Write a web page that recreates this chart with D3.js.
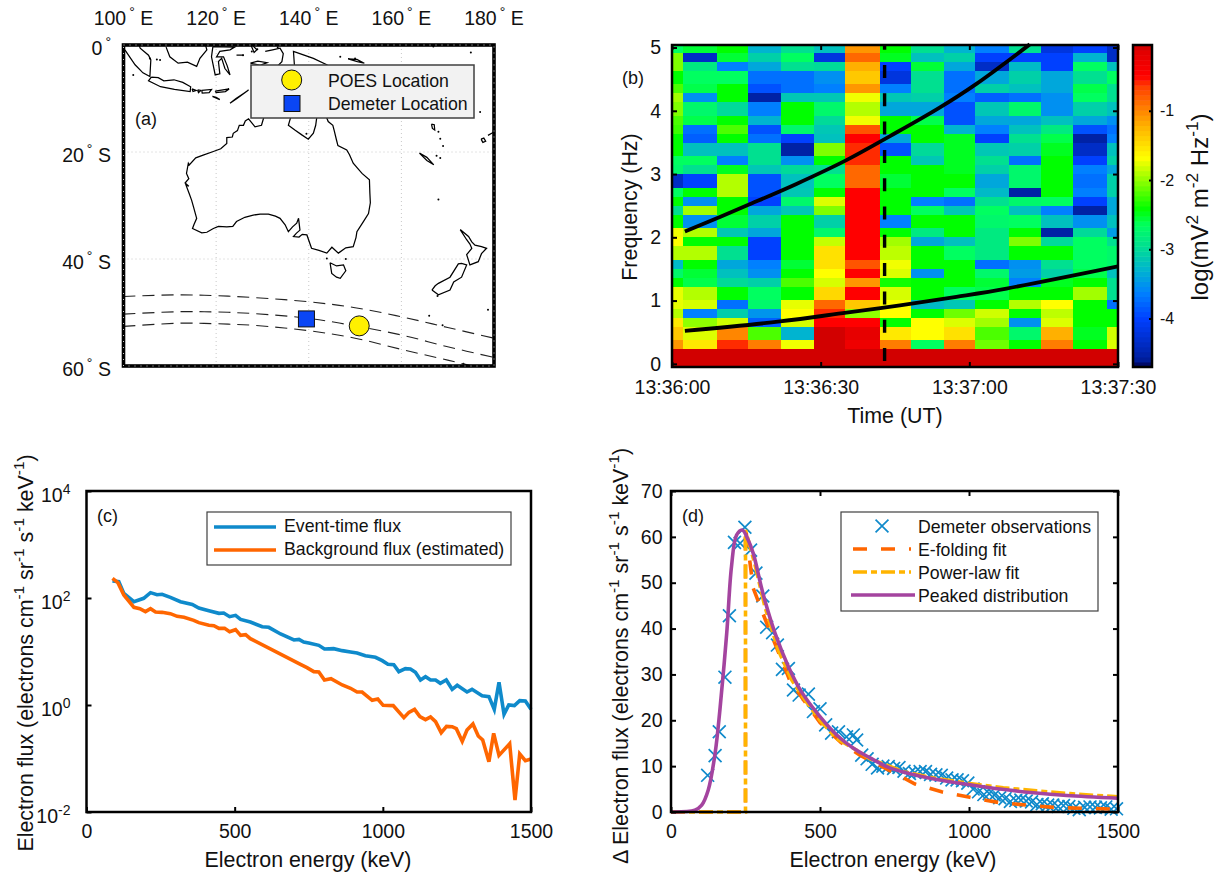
<!DOCTYPE html>
<html>
<head>
<meta charset="utf-8">
<script src="https://cdn.jsdelivr.net/npm/d3@7"></script>
<style>
  html, body { margin: 0; padding: 0; background: #fff; }
  svg { display: block; }
  text { font-family: "Liberation Sans", Arial, sans-serif; fill: #111; }
  .tick line { stroke: #000; stroke-width: 2; }
  .domain { display: none; }
</style>
</head>
<body>
<svg id="fig" width="1219" height="875"></svg>
<script>
// ---- panel a: coastlines as [lon, south lat] ----
const australia = [[136.7,12.2],[135,12],[132,11.4],[131,12.4],[130.3,13.5],[129.8,15],[128.4,15.3],[127,13.8],[126.3,14.2],[125.9,15],[125,15],[124.6,16],[123.7,16.5],[123.5,17.2],[122.3,17.3],[122.3,18.4],[121,19.4],[119.4,19.9],[117.2,20.6],[115.6,21.1],[114.2,22.4],[114,22.1],[113.6,24],[114.1,25],[113.3,25.8],[114.1,26.4],[113.5,26.2],[114.2,27.8],[114.7,29],[115.1,30.2],[115.8,32.4],[115.2,33.6],[114.9,34.3],[116.9,35.1],[118,35],[119.4,34.3],[120.5,33.9],[122.3,34],[123.6,33.9],[124.4,33],[126.2,32.2],[128,31.8],[129.5,31.6],[131.3,31.6],[132.8,32],[133.8,32.4],[134.9,33.6],[135.6,34.9],[136.5,34],[137.4,33.3],[137.8,32.4],[138.1,34.6],[137.3,35.2],[136.7,35.8],[137.9,35.9],[138.6,35.4],[139.6,35.5],[140.6,38],[142.2,38.4],[143.9,38.9],[145,37.8],[146.4,38.9],[148,37.9],[149.6,37.7],[150.2,36],[150.4,34.9],[151.8,33],[152.9,31.5],[153.3,29.5],[153.2,27.7],[153.1,25.2],[151.5,24],[150.8,23.3],[149.6,22.1],[148.8,20.5],[148.2,19.6],[146.3,18.8],[146,17.8],[145.5,16],[145.2,15],[144.2,14.3],[143.6,13],[143.5,11],[142.5,10.7],[142,12],[141.7,13.7],[141.5,15],[141,16.5],[139.9,17.6],[138.5,16.8],[137,15.9],[135.6,15],[136,13.8],[136.7,12.2]];
const tasmania = [[144.6,40.7],[144.96,42.7],[146,43.4],[146.8,43.6],[148,42.2],[147.5,41.1],[146,41.3],[144.6,40.7]];
const nzSouth = [[166.6,45.8],[167.3,45],[168,44.55],[170.5,43.4],[172.3,40.9],[173,40.8],[174.1,41.1],[173,43.4],[171.3,44.3],[170.5,45.8],[168,46.7],[166.6,45.8]];
const nzNorth = [[172.7,34.5],[174.1,36.4],[174.8,37.2],[175.2,38],[174.1,39.2],[174.8,41.1],[176.6,40.5],[177.3,39],[178.4,38],[177.3,37.7],[175.9,37.4],[175.2,36.8],[174.5,35.8],[172.7,34.5]];
const sumatra = [[100.3,0.9],[102.5,3.7],[104.2,5.2],[105.7,5.9],[105.9,2.8],[105.4,1.9],[103.6,0.6],[103.2,-0.5]];
const java = [[106,6],[107.5,6.1],[108.7,6.7],[110.9,6.5],[112.8,7],[114.5,7.8],[114.4,8.7],[111,8.3],[108,7.8],[105.4,6.7],[106,6]];
const borneo = [[109.2,0.4],[110,2.2],[111.8,3.4],[113.8,3.2],[115.8,4],[116.5,2.5],[118,0.9],[117.6,-0.3]];
const sulawesi = [[119.3,0.3],[119,2.2],[119.8,5.6],[120.8,5.4],[120.5,3.1],[121.2,2.5],[121.9,4.4],[123,5.6],[122.4,3.9],[121.6,2.2],[120.1,2.2],[120.8,1.2],[123,0.9],[124,0.4],[119.3,0.3]];
const newGuinea = [[130.6,1.2],[132.2,0.9],[133.8,0.6],[134.5,1.6],[134.2,3.1],[133.2,4],[135,5],[137,5],[136.7,1.2],[139,1.9],[141,2.5],[143.9,3.7],[146,5]];
const seram = [[127.4,3.4],[129,3],[131,3.3],[129.5,3.8],[127.4,3.4]];
const halmahera = [[127.6,0.2],[128.2,1.4],[128.8,0.9],[128,0.2]];
const sulaIslands = [[124.4,1.9],[126,1.9]];
const timor = [[123,10.9],[124.5,10],[127,8.4],[126,9],[124.3,10],[123,10.9]];
const sumba = [[119.2,9.6],[120.8,10.2],[120,9.8],[119.2,9.6]];
const sundaIslands = [[[114.8,8.2],[115.7,8.5],[115,8.7],[114.8,8.2]],[[116,8.4],[116.7,8.5],[116.2,8.9],[116,8.4]],[[116.9,8.5],[119,8.3],[118.5,8.9],[117,9],[116.9,8.5]],[[119.8,8.6],[122.8,8.2],[122,8.7],[120,8.9],[119.8,8.6]]];
const newCaledonia = [[163.9,20.2],[165.5,21],[167,22.4],[165.5,21.6],[163.9,20.2]];
const vanuatu = [[166.5,14.8],[166.7,15.6],[167.2,15.9],[167.1,14.9],[166.5,14.8]];
const fiji = [[177.2,17.6],[177.8,17.4],[178.2,18],[177.6,18.2],[177.2,17.6]];
const fijiEast = [[178.7,16.9],[179.5,16.5],[180,16.2]];
const newBritain = [[148.5,2.6],[150.4,2.7],[152,3.4],[150.5,3.1],[148.5,2.6]];
const smallIslands = [[102.1,5.6],[107.9,2.8],[107.2,2.7],[105.7,2.5],[127.7,1.2],[128.9,0.8],[125.8,1.9],[133.3,0.4],[146.8,2.2],[150,2.5],[175,1.4],[166.9,0.3],[168,16.2],[168.4,17.5],[169,18.9],[168.4,21.1],[167.6,20.7],[177,12.5],[168,28.9],[143.9,39.9],[148,40],[166,50.6],[168.9,52.4],[178.7,49.5],[173.4,59.6],[167.8,46.9],[139.5,16.6]];
const coastlines = [australia, tasmania, nzSouth, nzNorth, sumatra, java, borneo, sulawesi, newGuinea, seram, halmahera, sulaIslands, timor, sumba, ...sundaIslands, newCaledonia, vanuatu, fiji, fijiEast, newBritain];

// orbit tracks as lon, south lat
const trackLons = [100, 112, 120, 128, 140, 150, 160, 170, 180];
const trackNorth = [47.0, 46.7, 46.85, 47.2, 48.0, 49.1, 50.8, 52.8, 54.8];
const trackMiddle = [50.3, 49.85, 49.9, 50.2, 51.1, 52.5, 54.2, 56.4, 58.4];
const trackSouth = [52.6, 52.0, 52.1, 52.4, 53.4, 54.8, 56.9, 58.9, 61.0];
const poesLocation = [150.9, 52.5];
const demeterLocation = [139.5, 51.2];
const lonTicks = [100, 120, 140, 160, 180];
const latTicks = [0, 20, 40, 60];

// ---- panel b: spectrogram, log10 values, rows from 5 Hz down to 0 Hz ----
const timeEdges = [0, 2.3, 9, 15.4, 22, 28.7, 35, 42, 48.2, 54.8, 61.2, 68, 74.4, 81, 87.7, 90];
const freqEdges = [5.04,4.92,4.77,4.63,4.42,4.28,4.14,3.92,3.78,3.64,3.49,3.28,3.14,3.0,2.78,2.64,2.50,2.36,2.15,2.01,1.87,1.64,1.50,1.36,1.22,1.01,0.87,0.73,0.58,0.37,0.23,-0.05];
const spectrum = [
  [-2.65,-2.55,-2.42,-3.3,-2.95,-3.2,-1.08,-2.42,-2.95,-3.3,-3.63,-2.95,-4.2,-4.0,-4.35],
  [-2.05,-4.35,-2.55,-3.08,-2.65,-4.2,-0.85,-2.5,-3.2,-3.08,-4.0,-4.0,-4.0,-3.3,-4.35],
  [-2.05,-2.85,-3.63,-3.38,-2.95,-3.0,-1.21,-4.0,-2.55,-3.38,-4.35,-3.25,-4.0,-2.65,-3.2],
  [-2.42,-2.65,-2.65,-3.72,-3.72,-3.53,-1.35,-4.2,-2.95,-3.72,-3.38,-3.08,-3.38,-2.95,-2.65],
  [-2.2,-2.6,-2.42,-3.9,-3.72,-3.63,-1.08,-3.63,-2.95,-3.72,-3.08,-3.2,-3.38,-2.6,-2.95],
  [-1.95,-3.53,-2.42,-4.55,-3.15,-3.15,-1.72,-3.15,-3.08,-3.63,-3.82,-3.72,-3.53,-2.65,-2.95],
  [-2.05,-2.72,-3.0,-3.63,-2.42,-2.72,-1.9,-3.38,-3.38,-3.9,-3.15,-2.72,-3.53,-3.08,-3.2],
  [-2.2,-2.6,-2.42,-3.3,-2.42,-3.0,-1.72,-2.42,-2.6,-3.9,-3.38,-3.38,-3.2,-3.38,-3.53],
  [-2.25,-3.72,-2.2,-3.9,-2.72,-3.15,-0.75,-2.42,-2.42,-3.3,-3.63,-3.2,-2.85,-3.9,-3.72],
  [-2.42,-3.82,-2.42,-3.72,-4.0,-3.2,-0.5,-3.38,-2.42,-2.5,-4.0,-2.95,-2.6,-4.55,-3.63],
  [-2.42,-3.2,-3.2,-2.95,-4.55,-2.05,-0.6,-3.9,-3.0,-2.5,-3.15,-3.08,-2.5,-4.35,-3.2],
  [-2.65,-2.65,-3.63,-2.95,-3.53,-2.42,-0.6,-2.42,-3.15,-2.5,-2.95,-3.72,-2.42,-4.0,-3.08],
  [-2.72,-2.95,-2.5,-3.15,-3.0,-2.95,-0.85,-2.42,-2.42,-2.5,-3.08,-2.72,-2.42,-3.63,-3.38],
  [-4.35,-4.0,-1.9,-3.9,-3.2,-2.65,-0.85,-2.55,-2.42,-2.42,-3.38,-2.72,-2.42,-3.72,-3.08],
  [-2.65,-2.42,-1.9,-3.9,-3.15,-2.42,-0.5,-2.42,-2.42,-2.65,-3.25,-4.55,-2.42,-3.63,-3.08],
  [-2.42,-3.53,-2.42,-4.0,-2.72,-1.78,-0.5,-2.42,-3.63,-3.72,-2.95,-2.72,-2.65,-4.0,-3.38],
  [-2.95,-1.95,-2.42,-3.38,-3.15,-2.05,-0.5,-2.42,-2.65,-3.15,-2.65,-3.2,-3.63,-4.55,-3.38],
  [-2.42,-3.53,-2.55,-3.08,-2.42,-3.08,-0.5,-3.63,-2.42,-2.42,-2.72,-2.65,-3.2,-3.53,-3.2],
  [-1.72,-1.9,-3.15,-3.38,-2.42,-2.72,-0.5,-2.42,-2.85,-2.42,-2.85,-2.42,-4.55,-3.0,-3.45],
  [-1.68,-2.42,-2.42,-4.0,-2.42,-1.85,-0.5,-1.95,-3.38,-3.2,-2.85,-2.05,-3.0,-2.65,-2.95],
  [-1.9,-1.9,-2.95,-4.0,-2.42,-1.5,-0.5,-1.87,-2.42,-2.65,-2.85,-2.42,-2.42,-2.65,-2.72],
  [-3.25,-2.42,-3.38,-3.63,-2.55,-1.5,-0.75,-1.72,-2.42,-2.42,-3.72,-3.53,-2.95,-2.65,-2.72],
  [-2.72,-2.55,-3.2,-3.53,-2.42,-1.68,-0.5,-1.78,-3.53,-2.42,-2.72,-3.45,-3.08,-2.6,-3.2],
  [-2.42,-2.6,-3.0,-3.08,-2.2,-1.8,-1.08,-2.38,-2.42,-2.42,-2.55,-3.63,-2.5,-2.42,-2.95],
  [-1.75,-1.9,-2.42,-2.65,-2.42,-1.45,-0.5,-1.8,-2.42,-2.65,-2.6,-2.42,-2.42,-1.95,-2.95],
  [-1.75,-1.8,-3.72,-2.72,-1.75,-0.85,-1.35,-1.68,-3.25,-3.15,-2.42,-1.9,-1.68,-2.42,-3.72],
  [-1.9,-3.63,-3.1,-3.5,-1.68,-0.6,-2.0,-1.68,-2.42,-2.1,-1.82,-2.42,-1.87,-2.42,-2.42],
  [-1.55,-2.0,-1.82,-3.82,-1.8,-0.5,-0.5,-2.42,-1.68,-1.78,-1.95,-3.53,-1.78,-2.42,-2.42],
  [-1.35,-1.78,-1.0,-2.2,-3.3,-0.08,-0.2,-1.55,-1.68,-1.5,-2.2,-2.72,-1.21,-2.5,-1.82],
  [-1.08,-1.55,-0.6,-0.95,-1.72,-0.08,-0.3,-0.95,-2.65,-0.95,-2.1,-2.42,-0.95,-2.42,-1.78],
  [-0.08,-0.08,-0.08,-0.08,-0.08,-0.08,-0.08,-0.08,-0.08,-0.08,-0.08,-0.08,-0.08,-0.08,-0.08]
];
const colorValues = [-4.7,-4.58,-4.0,-3.63,-3.3,-2.95,-2.65,-2.42,-2.14,-1.68,-1.21,-0.65,-0.5,-0.12,-0.05];
const colorRange = ["#000050","#0020a0","#0040ff","#0080ff","#00b4d0","#00e090","#00ff60","#00ff00","#60ff00","#ffff00","#ffb000","#ff4000","#ff0000","#e00000","#c80000"];
const cutoffUpperT = [2.6, 15.3, 25, 35.2, 44, 54, 61.5, 72.2];
const cutoffUpperF = [2.09, 2.51, 2.84, 3.22, 3.6, 4.05, 4.43, 5.05];
const cutoffLowerT = [2.6, 21.8, 35.2, 46, 57.4, 67.5, 90];
const cutoffLowerF = [0.52, 0.67, 0.81, 0.925, 1.06, 1.19, 1.54];
const eventTime = 42.9;
const timeTicks = [0, 30, 60, 90];
const timeLabels = ["13:36:00", "13:36:30", "13:37:00", "13:37:30"];

// ---- panel c: flux, log10 of electrons cm-1 sr-1 s-1 keV-1 ----
const eventE = [87.7,109,126,160,193,216,238,255,283,317,357,379,413,447,463,483,503,520,553,593,615,655,700,717,733,750,784,803,834,863,891,913,941,975,998,1017,1037,1054,1076,1093,1110,1127,1144,1161,1178,1194,1214,1234,1251,1284,1301,1335,1358,1376,1392,1409,1425,1444,1462,1481,1500];
const eventLogFlux = [2.32,2.305,2.087,1.93,1.994,2.1,2.062,2.069,2.012,1.93,1.88,1.813,1.763,1.713,1.72,1.651,1.676,1.6,1.551,1.464,1.452,1.327,1.215,1.227,1.178,1.159,1.115,1.047,1.053,1.016,0.991,0.972,0.922,0.891,0.829,0.76,0.754,0.623,0.679,0.673,0.611,0.467,0.53,0.467,0.467,0.405,0.467,0.293,0.368,0.243,0.293,0.174,0.156,-0.081,0.424,-0.174,0,-0.012,0.081,0.075,-0.081];
const backgroundE = [87.7,106,126,160,180,199,216,233,255,283,306,329,362,379,413,430,447,466,483,503,520,537,553,722,744,767,784,803,825,863,891,913,930,964,983,1001,1035,1071,1088,1107,1125,1144,1161,1178,1197,1215,1234,1248,1268,1284,1304,1322,1337,1358,1374,1392,1428,1446,1462,1481,1500];
const backgroundLogFlux = [2.368,2.287,2.056,1.826,1.8,1.745,1.8,1.738,1.732,1.707,1.657,1.639,1.583,1.539,1.489,1.483,1.433,1.433,1.371,1.408,1.302,1.315,1.24,0.76,0.698,0.623,0.617,0.467,0.492,0.374,0.312,0.243,0.243,0.087,0.112,-0.006,-0.012,-0.237,-0.137,-0.081,-0.218,-0.274,-0.224,-0.312,-0.517,-0.399,-0.405,-0.442,-0.679,-0.467,-0.355,-0.579,-0.654,-1.059,-0.53,-0.941,-0.723,-1.776,-0.916,-1.04,-1.009];
const logTicks = [-2, 0, 2, 4];
const energyTicks = [0, 500, 1000, 1500];

// ---- panel d: flux difference ----
const obsE = [123,148,162,181,196,213,232,248,267,285,308,321,341,357,374,394,411,430,461,478,500,519,539,562,589,612,623,640,658,675,693,711,729,747,765,782,800,818,836,854,871,889,907,925,943,960,978,996,1014,1032,1050,1068,1085,1103,1121,1139,1157,1174,1192,1210,1228,1246,1264,1281,1299,1317,1335,1352,1370,1388,1406,1424,1441,1459,1477,1495];
const obsFlux = [8,12.3,17.5,29.4,42.8,58.8,58.6,62.1,57.1,52.1,47.1,40.3,39.1,36.4,31.1,31.3,26.6,25.5,25.7,21.9,22.5,19,17.2,17.5,16.4,16.8,15.7,12.4,11.6,10.4,9.6,10,9.9,9.5,9.7,8.9,8.4,8.6,8.8,8.8,8.2,8.1,8,7.4,7,7,6.8,6.3,5,4.4,3.8,4,3.7,3.1,2.9,2.3,2.5,2.6,2.4,2.2,1.6,1.8,1.5,1.5,1.2,1.4,1.2,0.8,0.5,1,1.1,1,0.9,1.1,0.6,0.7];
const efoldE = [0,250,250,276,315,400,500,570,634,729,819,908,1003,1098,1193,1288,1384,1496];
const efoldFlux = [0,0,62,48.8,42.2,28.5,19.5,15.2,12.4,9.2,6.1,4.4,3.2,2.1,1.5,1,0.8,0.6];
const powerE = [0,250,250,282,315,360,405,450,500,556,612,668,780,891,1003,1115,1227,1339,1500];
const powerFlux = [0,0,61.5,53.9,44.8,35.3,28.8,24.4,20,16,13.9,11.6,8.8,7.3,6.2,5.3,4.6,4,3.3];
const peakE = [2,80,103,125,148,164,187,203,220,239,259,276,310,349,394,438,500,556,612,668,724,780,836,891,998,1104,1216,1328,1500];
const peakFlux = [0,0.4,1.5,4.8,12.8,22.2,39,53.5,60.4,61.5,59.3,56.4,47.3,39,31.7,26.2,20.8,16.8,13.9,11.8,9.9,8.7,7.8,7.1,6,5,4.2,3.6,3];
const fluxTicks = [0, 10, 20, 30, 40, 50, 60, 70];

const blue = "#0f8acb", orange = "#ff6600", gold = "#ffb400", purple = "#a4449f";
const tickFont = 19.5, titleFont = 21.4, legendFont = 17.7, tagFont = 18;

const svg = d3.select("#fig");

// text with superscripts, parts are [string, isSuper]
function mixedText(sel, parts, supSize, supRise) {
  let raised = false;
  parts.forEach(([str, sup, gap]) => {
    const t = sel.append("tspan").text(str);
    let dy = 0;
    if (sup && !raised) dy = -supRise;
    if (!sup && raised) dy = supRise;
    raised = !!sup;
    if (dy) t.attr("dy", dy);
    if (gap) t.attr("dx", gap);
    if (sup) t.attr("font-size", supSize);
  });
  return sel;
}

function label(x, y, size, parts, anchor, rotate) {
  const t = svg.append("text")
    .attr("font-size", size)
    .attr("text-anchor", anchor || "start");
  if (rotate) t.attr("transform", `translate(${x},${y}) rotate(-90)`);
  else t.attr("x", x).attr("y", y);
  return mixedText(t, parts, size * 0.72, size * 0.42);
}

function frame(x0, y0, x1, y1) {
  svg.append("rect")
    .attr("x", x0).attr("y", y0)
    .attr("width", x1 - x0).attr("height", y1 - y0)
    .attr("fill", "none").attr("stroke", "#000").attr("stroke-width", 2.5);
}

function clipTo(id, x0, y0, x1, y1) {
  svg.append("clipPath").attr("id", id).append("rect")
    .attr("x", x0).attr("y", y0).attr("width", x1 - x0).attr("height", y1 - y0);
  return `url(#${id})`;
}

function styleTicks(g, size) {
  g.selectAll("text").attr("font-size", size).attr("fill", "#111");
}

// ---- panel (a) map ----
(function drawMap() {
  const x = d3.scaleLinear().domain([100, 180]).range([123.5, 494]);
  const y = d3.scaleLinear().domain([0, 60]).range([45, 366]);
  const clip = clipTo("mapClip", 123.5, 45, 494, 366);
  const g = svg.append("g").attr("clip-path", clip);

  g.selectAll("line.lon").data(lonTicks.slice(1, 4)).join("line")
    .attr("class", "lon")
    .attr("x1", x).attr("x2", x).attr("y1", y(0)).attr("y2", y(60))
    .attr("stroke", "#c8c8c8").attr("stroke-dasharray", "1 3");
  g.selectAll("line.lat").data(latTicks.slice(1, 3)).join("line")
    .attr("class", "lat")
    .attr("y1", y).attr("y2", y).attr("x1", x(100)).attr("x2", x(180))
    .attr("stroke", "#c8c8c8").attr("stroke-dasharray", "1 3");

  const coast = d3.line().x(d => x(d[0])).y(d => y(d[1]));
  g.selectAll("path.coast").data(coastlines).join("path")
    .attr("class", "coast").attr("d", coast)
    .attr("fill", "none").attr("stroke", "#000").attr("stroke-width", 1.25);
  g.selectAll("circle.isle").data(smallIslands).join("circle")
    .attr("class", "isle")
    .attr("cx", d => x(d[0])).attr("cy", d => y(d[1])).attr("r", 1).attr("fill", "#000");

  const track = d3.line().curve(d3.curveCatmullRom).x((d, i) => x(trackLons[i])).y(d => y(d));
  g.selectAll("path.track").data([trackNorth, trackMiddle, trackSouth]).join("path")
    .attr("class", "track")
    .attr("d", track).attr("fill", "none").attr("stroke", "#222")
    .attr("stroke-width", 1.1).attr("stroke-dasharray", "12 7");

  g.append("rect")
    .attr("x", x(demeterLocation[0]) - 8).attr("y", y(demeterLocation[1]) - 8)
    .attr("width", 16).attr("height", 16)
    .attr("fill", "#0a46f5").attr("stroke", "#111").attr("stroke-width", 1);
  g.append("circle")
    .attr("cx", x(poesLocation[0])).attr("cy", y(poesLocation[1])).attr("r", 10)
    .attr("fill", "#fff000").attr("stroke", "#111").attr("stroke-width", 1);

  // fancy box, black with a row of white dots
  svg.append("rect")
    .attr("x", 123.5).attr("y", 45).attr("width", 370.5).attr("height", 321)
    .attr("fill", "none").attr("stroke", "#000").attr("stroke-width", 3.6);
  svg.append("rect")
    .attr("x", 123.5).attr("y", 45).attr("width", 370.5).attr("height", 321)
    .attr("fill", "none").attr("stroke", "#fff").attr("stroke-width", 0.8)
    .attr("stroke-dasharray", "1 5");

  lonTicks.forEach(lon => {
    label(x(lon), 25, tickFont, [[String(lon)], ["°", true, 3], ["E", false, 5.5]], "middle");
  });
  latTicks.forEach(lat => {
    const parts = lat === 0
      ? [["0"], ["°", true, 3]]
      : [[String(lat)], ["°", true, 3], ["S", false, 5.5]];
    label(111, y(lat) + 10, tickFont, parts, "end");
  });
  label(135, 125, tagFont, [["(a)"]]);

  // legend
  svg.append("rect")
    .attr("x", 251).attr("y", 65).attr("width", 223).attr("height", 53)
    .attr("fill", "#f2f2f2").attr("stroke", "#404040").attr("stroke-width", 1.5);
  svg.append("circle").attr("cx", 291.7).attr("cy", 80).attr("r", 10)
    .attr("fill", "#fff000").attr("stroke", "#111");
  svg.append("rect").attr("x", 284).attr("y", 95.5).attr("width", 16).attr("height", 16)
    .attr("fill", "#0a46f5").attr("stroke", "#111");
  label(328, 87, legendFont, [["POES Location"]]);
  label(328, 110, legendFont, [["Demeter Location"]]);
})();

// ---- panel (b) spectrogram ----
(function drawSpectrogram() {
  const x = d3.scaleLinear().domain([0, 90]).range([672, 1118]);
  const y = d3.scaleLinear().domain([-0.05, 5.04]).range([367, 45]);
  const color = d3.scaleLinear().domain(colorValues).range(colorRange);
  const clip = clipTo("specClip", 672, 45, 1118, 367);
  const g = svg.append("g").attr("clip-path", clip);

  spectrum.forEach((row, r) => {
    g.selectAll(null).data(row).join("rect")
      .attr("x", (d, c) => x(timeEdges[c]))
      .attr("width", (d, c) => x(timeEdges[c + 1]) - x(timeEdges[c]))
      .attr("y", y(freqEdges[r]))
      .attr("height", y(freqEdges[r + 1]) - y(freqEdges[r]))
      .attr("fill", d => color(d))
      .attr("shape-rendering", "crispEdges");
  });

  const curve = (ts, fs) => d3.line().curve(d3.curveCatmullRom)
    .x((d, i) => x(ts[i])).y(d => y(d))(fs);
  svg.append("path").attr("d", curve(cutoffUpperT, cutoffUpperF))
    .attr("fill", "none").attr("stroke", "#000").attr("stroke-width", 3.8);
  svg.append("path").attr("d", curve(cutoffLowerT, cutoffLowerF))
    .attr("fill", "none").attr("stroke", "#000").attr("stroke-width", 3.8);
  g.append("line")
    .attr("x1", x(eventTime)).attr("x2", x(eventTime))
    .attr("y1", 45).attr("y2", 367)
    .attr("stroke", "#000").attr("stroke-width", 3.4)
    .attr("stroke-dasharray", "13 15.3").attr("stroke-dashoffset", 8.3);

  // axes, ticks point inward on all four sides
  const bottom = svg.append("g").attr("transform", "translate(0,367)")
    .call(d3.axisBottom(x).tickValues(timeTicks).tickFormat((d, i) => timeLabels[i]).tickSize(-5).tickSizeOuter(0).tickPadding(13));
  const left = svg.append("g").attr("transform", "translate(672,0)")
    .call(d3.axisLeft(y).tickValues([0, 1, 2, 3, 4, 5]).tickFormat(d3.format("d")).tickSize(-5).tickSizeOuter(0).tickPadding(11));
  svg.append("g").attr("transform", "translate(0,45)")
    .call(d3.axisTop(x).tickValues(timeTicks).tickFormat("").tickSize(-5).tickSizeOuter(0));
  svg.append("g").attr("transform", "translate(1118,0)")
    .call(d3.axisRight(y).tickValues([0, 1, 2, 3, 4, 5]).tickFormat("").tickSize(-5).tickSizeOuter(0));
  styleTicks(bottom, tickFont);
  styleTicks(left, tickFont);
  frame(672, 45, 1118, 367);

  label(895, 423, titleFont, [["Time (UT)"]], "middle");
  label(637, 207, titleFont, [["Frequency (Hz)"]], "middle", true);
  label(622, 84, tagFont, [["(b)"]]);

  // colour bar
  const cy = d3.scaleLinear().domain([-4.7, -0.05]).range([367, 45]);
  const levels = d3.range(64).map(i => -4.7 + (i + 0.5) * 4.65 / 64);
  svg.selectAll(null).data(levels).join("rect")
    .attr("x", 1133).attr("width", 18.5)
    .attr("y", d => cy(d + 4.65 / 128)).attr("height", 322 / 64 + 0.5)
    .attr("fill", d => color(d));
  const bar = svg.append("g").attr("transform", "translate(1152,0)")
    .call(d3.axisRight(cy).tickValues([-4, -3, -2, -1]).tickFormat(d3.format("d")).tickSize(-3).tickSizeOuter(0).tickPadding(8));
  styleTicks(bar, 16);
  bar.selectAll("text").each(function (d) { d3.select(this).text("-" + Math.abs(d)); });
  frame(1133, 45, 1152, 367);

  label(1208, 207, 24, [["log(mV"], ["2", true], [" m"], ["-2", true], [" Hz"], ["-1", true], [")"]], "middle", true);
})();

// ---- panel (c) fluxes ----
(function drawFlux() {
  const x = d3.scaleLinear().domain([0, 1500]).range([86.5, 531]);
  const y = d3.scaleLinear().domain([-2, 4]).range([812, 491]);
  const line = d3.line().x(d => x(d[0])).y(d => y(d[1]));
  svg.append("path").attr("d", line(d3.zip(eventE, eventLogFlux)))
    .attr("fill", "none").attr("stroke", blue).attr("stroke-width", 3.6).attr("stroke-linejoin", "miter");
  svg.append("path").attr("d", line(d3.zip(backgroundE, backgroundLogFlux)))
    .attr("fill", "none").attr("stroke", orange).attr("stroke-width", 3.6).attr("stroke-linejoin", "miter");

  const bottom = svg.append("g").attr("transform", "translate(0,812)")
    .call(d3.axisBottom(x).tickValues(energyTicks).tickFormat(d3.format("d")).tickSize(-5).tickSizeOuter(0).tickPadding(12));
  styleTicks(bottom, tickFont);
  const left = svg.append("g").attr("transform", "translate(86.5,0)")
    .call(d3.axisLeft(y).tickValues(logTicks).tickFormat("").tickSize(-5).tickSizeOuter(0));
  left.selectAll(".tick text").each(function (d) {
    const t = d3.select(this).attr("x", -16).attr("dy", "0.55em").attr("font-size", tickFont).attr("fill", "#111");
    t.text(null);
    mixedText(t, [["10"], [String(d), true]], 14, 8);
  });
  frame(86.5, 491, 531, 812);

  label(308, 867, titleFont, [["Electron energy (keV)"]], "middle");
  label(33, 653, titleFont, [["Electron flux (electrons cm"], ["-1", true], [" sr"], ["-1", true], [" s"], ["-1", true], [" keV"], ["-1", true], [")"]], "middle", true);
  label(97, 522, tagFont, [["(c)"]]);

  svg.append("rect").attr("x", 207).attr("y", 512).attr("width", 304).attr("height", 53)
    .attr("fill", "#fff").attr("stroke", "#404040").attr("stroke-width", 1.2);
  svg.append("line").attr("x1", 214).attr("x2", 276).attr("y1", 527).attr("y2", 527)
    .attr("stroke", blue).attr("stroke-width", 3.6);
  svg.append("line").attr("x1", 214).attr("x2", 276).attr("y1", 550).attr("y2", 550)
    .attr("stroke", orange).attr("stroke-width", 3.6);
  label(284, 532, legendFont, [["Event-time flux"]]);
  label(284, 555, legendFont, [["Background flux (estimated)"]]);
})();

// ---- panel (d) fits ----
(function drawFits() {
  const x = d3.scaleLinear().domain([0, 1500]).range([671, 1118]);
  const y = d3.scaleLinear().domain([0, 70]).range([812, 491]);
  const g = svg.append("g");
  const line = d3.line().x(d => x(d[0])).y(d => y(d[1]));
  const cross = d3.symbol().type(d3.symbolTimes).size(110);

  g.selectAll("path.obs").data(d3.zip(obsE, obsFlux)).join("path")
    .attr("class", "obs").attr("d", cross)
    .attr("transform", d => `translate(${x(d[0])},${y(d[1])})`)
    .attr("fill", "none").attr("stroke", blue).attr("stroke-width", 1.7);
  g.append("path").attr("d", line(d3.zip(efoldE, efoldFlux)))
    .attr("fill", "none").attr("stroke", orange).attr("stroke-width", 3.6).attr("stroke-dasharray", "14 14");
  g.append("path").attr("d", line(d3.zip(powerE, powerFlux)))
    .attr("fill", "none").attr("stroke", gold).attr("stroke-width", 3.6).attr("stroke-dasharray", "14 4 6 4");
  g.append("path").attr("d", d3.line().curve(d3.curveCatmullRom).x(d => x(d[0])).y(d => y(d[1]))(d3.zip(peakE, peakFlux)))
    .attr("fill", "none").attr("stroke", purple).attr("stroke-width", 3.6);

  const bottom = svg.append("g").attr("transform", "translate(0,812)")
    .call(d3.axisBottom(x).tickValues(energyTicks).tickFormat(d3.format("d")).tickSize(-5).tickSizeOuter(0).tickPadding(12));
  const left = svg.append("g").attr("transform", "translate(671,0)")
    .call(d3.axisLeft(y).tickValues(fluxTicks).tickFormat(d3.format("d")).tickSize(-5).tickSizeOuter(0).tickPadding(8.5));
  svg.append("g").attr("transform", "translate(1118,0)")
    .call(d3.axisRight(y).tickValues(fluxTicks).tickFormat("").tickSize(-5).tickSizeOuter(0));
  svg.append("g").attr("transform", "translate(0,491)")
    .call(d3.axisTop(x).tickValues(energyTicks).tickFormat("").tickSize(-5).tickSizeOuter(0));
  styleTicks(bottom, tickFont);
  styleTicks(left, tickFont);
  frame(671, 491, 1118, 812);

  label(893, 867, titleFont, [["Electron energy (keV)"]], "middle");
  label(628, 656, titleFont, [["Δ Electron flux (electrons cm"], ["-1", true], [" sr"], ["-1", true], [" s"], ["-1", true], [" keV"], ["-1", true], [")"]], "middle", true);
  label(682, 522, tagFont, [["(d)"]]);

  svg.append("rect").attr("x", 841).attr("y", 512).attr("width", 257).attr("height", 99)
    .attr("fill", "#fff").attr("stroke", "#404040").attr("stroke-width", 1.2);
  svg.append("path").attr("d", cross).attr("transform", "translate(882,526)")
    .attr("fill", "none").attr("stroke", blue).attr("stroke-width", 1.7);
  svg.append("line").attr("x1", 853).attr("x2", 911).attr("y1", 549).attr("y2", 549)
    .attr("stroke", orange).attr("stroke-width", 3.6).attr("stroke-dasharray", "14 14");
  svg.append("line").attr("x1", 853).attr("x2", 911).attr("y1", 572).attr("y2", 572)
    .attr("stroke", gold).attr("stroke-width", 3.6).attr("stroke-dasharray", "14 4 6 4");
  svg.append("line").attr("x1", 851).attr("x2", 915).attr("y1", 595).attr("y2", 595)
    .attr("stroke", purple).attr("stroke-width", 3.6);
  label(918, 533, legendFont, [["Demeter observations"]]);
  label(918, 556, legendFont, [["E-folding fit"]]);
  label(918, 579, legendFont, [["Power-law fit"]]);
  label(918, 602, legendFont, [["Peaked distribution"]]);
})();
</script>
</body>
</html>
